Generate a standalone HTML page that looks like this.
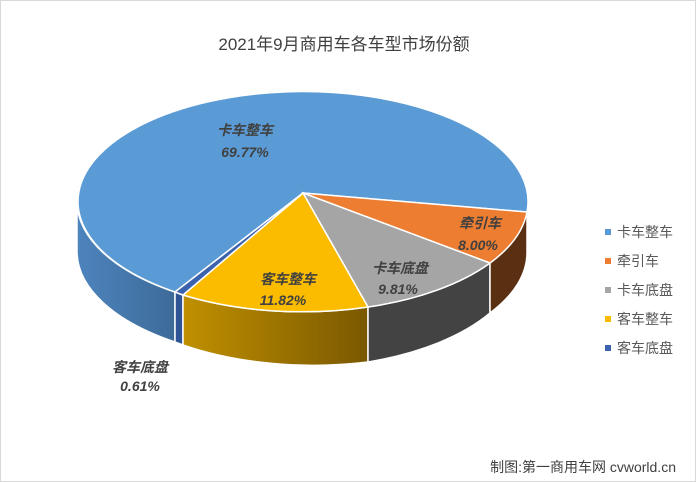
<!DOCTYPE html>
<html><head><meta charset="utf-8"><style>
html,body{margin:0;padding:0;background:#fff;}
svg{display:block;}
text{font-family:"Liberation Sans","Noto Sans CJK SC",sans-serif;}
</style></head><body>
<svg width="696" height="482" viewBox="0 0 696 482">
<defs>
<linearGradient id="gb" x1="0" x2="1" y1="0" y2="0"><stop offset="0" stop-color="#4d84bd"/><stop offset="1" stop-color="#3d6b99"/></linearGradient>
<linearGradient id="gy" x1="0" x2="1" y1="0" y2="0"><stop offset="0" stop-color="#c09000"/><stop offset="1" stop-color="#7a5800"/></linearGradient>
</defs>
<rect x="0.5" y="0.5" width="695" height="481" fill="#fff" stroke="#d9d9d9"/>
<text x="344" y="50" font-size="17" fill="#404040" text-anchor="middle">2021年9月商用车各车型市场份额</text>
<g stroke="#fff" stroke-width="1.5">
<path d="M77,202 A225 110 0 0 0 175,292 L175,342 A225 110 0 0 1 77,252 Z" fill="url(#gb)"/>
<path d="M175,292 A225 110 0 0 0 183,295 L183,345 A225 110 0 0 1 175,342 Z" fill="#2f5597"/>
<path d="M183,295 A225 110 0 0 0 368,307 L368,362 A225 110 0 0 1 183,345 Z" fill="url(#gy)"/>
<path d="M368,307 A225 110 0 0 0 490,263 L490,313 A225 110 0 0 1 368,362 Z" fill="#434343"/>
<path d="M490,263 A225 110 0 0 0 527,202 L527,252 A225 110 0 0 1 490,313 Z" fill="#5b2f12"/>
<path d="M303,193 L527,212 A225 110 0 1 0 175,292 Z" fill="#5b9bd5"/>
<path d="M303,193 L490,263 A225 110 0 0 0 527,212 Z" fill="#ed7d31"/>
<path d="M303,193 L368,307 A225 110 0 0 0 490,263 Z" fill="#a5a5a5"/>
<path d="M303,193 L183,295 A225 110 0 0 0 368,307 Z" fill="#fbbc00"/>
<path d="M303,193 L175,292 A225 110 0 0 0 183,295 Z" fill="#3a62ad"/>
</g>
<g font-size="14" font-style="italic" font-weight="bold" fill="#404040" text-anchor="middle">
<text x="245" y="135">卡车整车</text><text x="245" y="157">69.77%</text>
<text x="480" y="228">牵引车</text><text x="478" y="250">8.00%</text>
<text x="400" y="273">卡车底盘</text><text x="398" y="294">9.81%</text>
<text x="288" y="284">客车整车</text><text x="283" y="305">11.82%</text>
<text x="140" y="372">客车底盘</text><text x="140" y="391">0.61%</text>
</g>
<g font-size="14" fill="#595959">
<rect x="605" y="229" width="6" height="6" fill="#5b9bd5"/><text x="617" y="237">卡车整车</text>
<rect x="605" y="258" width="6" height="6" fill="#ed7d31"/><text x="617" y="266">牵引车</text>
<rect x="605" y="287" width="6" height="6" fill="#a5a5a5"/><text x="617" y="295">卡车底盘</text>
<rect x="605" y="316" width="6" height="6" fill="#fbbc00"/><text x="617" y="324">客车整车</text>
<rect x="605" y="345" width="6" height="6" fill="#3a62ad"/><text x="617" y="353">客车底盘</text>
</g>
<text x="676" y="472" font-size="14" fill="#404040" text-anchor="end">制图:第一商用车网 cvworld.cn</text>
</svg>
</body></html>
